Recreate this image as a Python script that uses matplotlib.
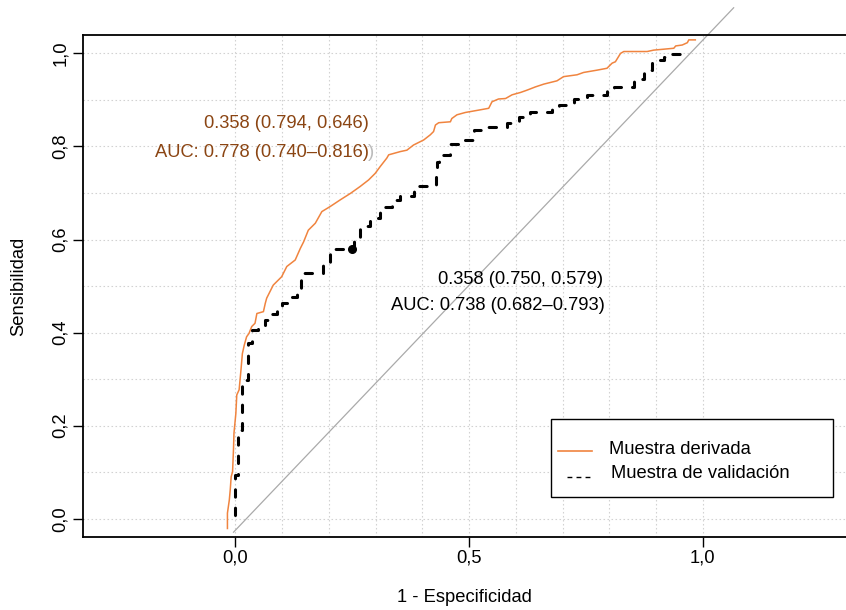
import matplotlib
matplotlib.use("Agg")
import matplotlib.pyplot as plt
from matplotlib.lines import Line2D
from matplotlib.patches import Rectangle

plt.rcParams["font.family"] = ["Liberation Sans", "DejaVu Sans"]

W, H = 846, 610

# curva de la muestra derivada (1 - especificidad, sensibilidad)
deriv_fpr = [-0.017, -0.017, -0.013, -0.011, -0.009, -0.006, -0.004, -0.003,
             0.001, 0.003, 0.008, 0.012, 0.015, 0.019, 0.024, 0.029, 0.035,
             0.042, 0.046, 0.060, 0.064, 0.067, 0.081, 0.099, 0.110, 0.128,
             0.139, 0.146, 0.156, 0.171, 0.185, 0.203, 0.224, 0.246, 0.267,
             0.285, 0.299, 0.310, 0.324, 0.328, 0.353, 0.367, 0.381, 0.403,
             0.417, 0.424, 0.428, 0.435, 0.460, 0.463, 0.474, 0.492, 0.520,
             0.542, 0.549, 0.563, 0.578, 0.592, 0.610, 0.624, 0.642, 0.660,
             0.688, 0.702, 0.731, 0.745, 0.774, 0.795, 0.806, 0.813, 0.824,
             0.831, 0.881, 0.895, 0.938, 0.942, 0.956, 0.967, 0.970, 0.984]
deriv_sens = [-0.021, 0.012, 0.040, 0.062, 0.090, 0.101, 0.150, 0.184,
              0.226, 0.266, 0.277, 0.320, 0.355, 0.373, 0.391, 0.398, 0.413,
              0.420, 0.441, 0.445, 0.463, 0.474, 0.502, 0.520, 0.542, 0.556,
              0.581, 0.595, 0.620, 0.635, 0.660, 0.671, 0.685, 0.699, 0.714,
              0.728, 0.742, 0.757, 0.775, 0.782, 0.789, 0.792, 0.803, 0.814,
              0.825, 0.832, 0.846, 0.851, 0.853, 0.860, 0.868, 0.873, 0.878,
              0.882, 0.896, 0.902, 0.903, 0.911, 0.916, 0.921, 0.928, 0.934,
              0.941, 0.950, 0.954, 0.959, 0.964, 0.968, 0.979, 0.982, 1.000,
              1.004, 1.004, 1.007, 1.011, 1.016, 1.018, 1.023, 1.029, 1.029]

# curva de la muestra de validación
valid_fpr = [0.000, 0.000, 0.006, 0.014, 0.027, 0.035, 0.049, 0.064, 0.075,
             0.090, 0.100, 0.121, 0.131, 0.140, 0.142, 0.188, 0.203, 0.206,
             0.253, 0.267, 0.288, 0.309, 0.335, 0.353, 0.382, 0.395, 0.430,
             0.432, 0.436, 0.460, 0.481, 0.510, 0.538, 0.581, 0.606, 0.631,
             0.677, 0.692, 0.724, 0.752, 0.795, 0.809, 0.852, 0.874, 0.892,
             0.895, 0.917, 0.931, 0.959]
valid_sens = [0.008, 0.080, 0.095, 0.190, 0.298, 0.377, 0.405, 0.413, 0.427,
              0.440, 0.448, 0.463, 0.477, 0.484, 0.527, 0.527, 0.549, 0.580,
              0.580, 0.599, 0.628, 0.646, 0.669, 0.685, 0.694, 0.714, 0.716,
              0.742, 0.766, 0.782, 0.805, 0.814, 0.835, 0.842, 0.850, 0.864,
              0.875, 0.885, 0.889, 0.903, 0.911, 0.921, 0.928, 0.946, 0.964,
              0.979, 0.986, 0.993, 0.999]

# punto de corte de la validación
thr_fpr, thr_sens = 0.250, 0.579

# línea de referencia
diag_x = [-0.004, 1.066]
diag_y = [-0.029, 1.098]

deriv_labels = ["0.358 (0.794, 0.646)", "AUC: 0.778 (0.740\u20130.816)"]
valid_labels = ["0.358 (0.750, 0.579)", "AUC: 0.738 (0.682\u20130.793)"]
legend_labels = ["Muestra derivada", "Muestra de validación"]

orange = "#F0843F"
brown = "#8B4513"
fs = 13.2

fig = plt.figure(figsize=(W / 100, H / 100), dpi=100)
ax = fig.add_axes([83 / W, (H - 537) / H, (846 - 83) / W + 0.002, 502 / H])

ax.set_xlim(-0.326, 1.31)
ax.set_ylim(-0.0393, 1.0395)

# rejilla
ax.set_xticks([i / 10 for i in range(11)], minor=True)
ax.set_yticks([i / 10 for i in range(11)], minor=True)
ax.set_xticks([0, 0.5, 1.0])
ax.set_yticks([0, 0.2, 0.4, 0.6, 0.8, 1.0])
ax.grid(True, which="both", color="#D2D2D2", linestyle=(0, (1.4, 2.2)),
        linewidth=0.8, zorder=0)
ax.set_axisbelow(True)
ax.tick_params(which="minor", length=0)
ax.tick_params(which="major", direction="out", length=7.2, width=1.0,
               labelsize=fs)
ax.tick_params(axis="x", pad=1.5)
ax.tick_params(axis="y", pad=3)
ax.set_xticklabels(["0,0", "0,5", "1,0"])
ax.set_yticklabels(["0,0", "0,2", "0,4", "0,6", "0,8", "1,0"],
                   rotation=90, va="center")

for side in ["left", "bottom", "top"]:
    ax.spines[side].set_linewidth(1.3)
ax.spines["right"].set_visible(False)

ax.plot(diag_x, diag_y, color="#AAAAAA", lw=0.9, clip_on=False, zorder=2)
ax.plot(deriv_fpr, deriv_sens, color=orange, lw=1.1, zorder=3)
ax.plot(valid_fpr, valid_sens, color="black", lw=2.2,
        linestyle=(0, (2.4, 3.6)), dash_capstyle="round",
        drawstyle="steps-pre", zorder=4)
ax.plot([thr_fpr], [thr_sens], "o", color="black", ms=5.5, zorder=5)

# textos de AUC
ax.text(0.297, 0.788, ")", color="#BBBBBB", fontsize=fs, ha="right",
        va="center", zorder=5)
ax.text(0.286, 0.850, deriv_labels[0], color=brown, fontsize=fs, ha="right",
        va="center", zorder=6)
ax.text(0.286, 0.788, deriv_labels[1], color=brown, fontsize=fs, ha="right",
        va="center", zorder=6)
ax.text(0.787, 0.514, valid_labels[0], color="black", fontsize=fs, ha="right",
        va="center", zorder=6)
ax.text(0.791, 0.459, valid_labels[1], color="black", fontsize=fs, ha="right",
        va="center", zorder=6)


def px(x, y):
    return x / W, 1 - y / H


# leyenda
x0, y0 = px(551, 497)
x1, y1 = px(833, 419)
fig.add_artist(Rectangle((x0, y0), x1 - x0, y1 - y0, transform=fig.transFigure,
                         facecolor="white", edgecolor="black", lw=1.0,
                         zorder=10))
a, b = px(558, 451)
c, d = px(592, 451)
fig.add_artist(Line2D([a, c], [b, d], transform=fig.transFigure, color=orange,
                      lw=1.2, zorder=11))
a, b = px(567, 477)
c, d = px(591, 477)
fig.add_artist(Line2D([a, c], [b, d], transform=fig.transFigure, color="black",
                      lw=1.0, linestyle=(0, (3.5, 3.0)), zorder=11))
fig.text(*px(609, 450), legend_labels[0], fontsize=fs, ha="left", va="center",
         zorder=12)
fig.text(*px(611, 473), legend_labels[1], fontsize=fs, ha="left", va="center",
         zorder=12)

# títulos de ejes
fig.text(*px(464.5, 597), "1 - Especificidad", fontsize=fs, ha="center",
         va="center")
fig.text(*px(19, 286), "Sensibilidad", fontsize=fs, ha="center", va="center",
         rotation=90)

fig.savefig("out.png", dpi=100)
